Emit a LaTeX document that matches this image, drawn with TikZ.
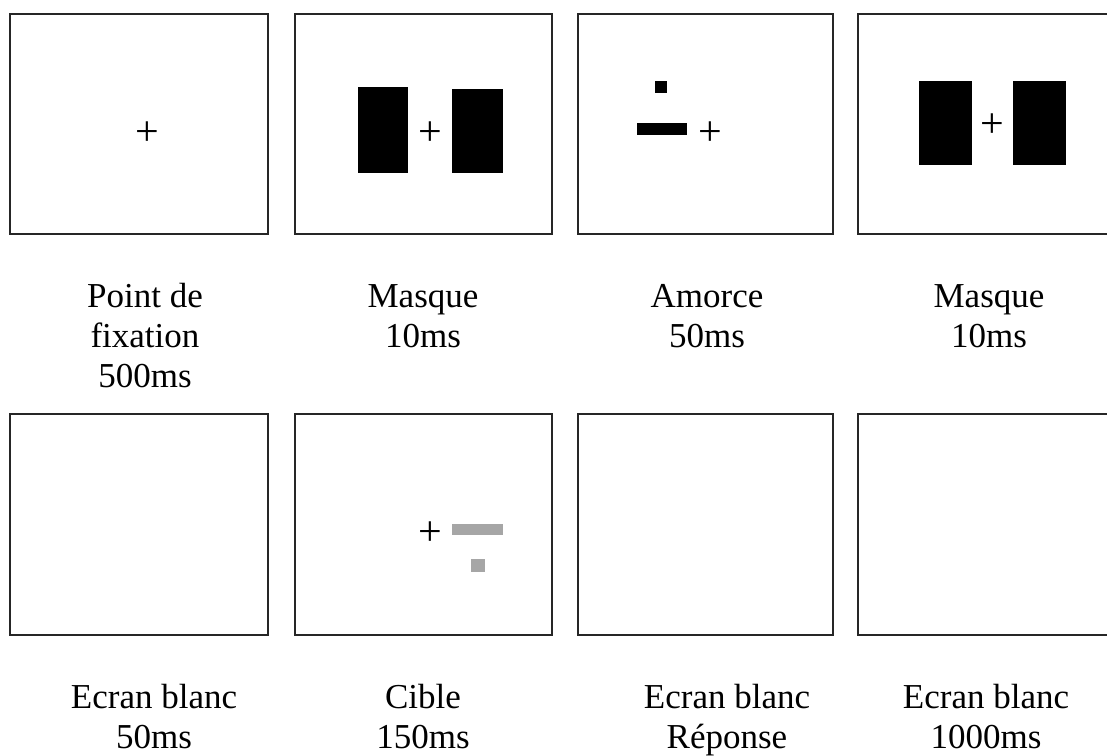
\documentclass[tikz,border=0pt]{standalone}
\usepackage{fontspec}
\setmainfont{Liberation Serif}
\begin{document}
\begin{tikzpicture}[x=1pt,y=-1pt,
  screen/.style={draw=black!85,line width=1.6pt,fill=white},
  lbl/.style={anchor=base,inner sep=0pt,font=\fontsize{35}{40}\selectfont},
  fix/.style={inner sep=0pt,yshift=-4pt,font=\fontsize{42}{44}\selectfont}]
\useasboundingbox (0,0) rectangle (1107,755);
% row 1 screens
\draw[screen] (10,14) rectangle (268,234);
\draw[screen] (295,14) rectangle (552,234);
\draw[screen] (578,14) rectangle (833,234);
\draw[screen] (858,14) rectangle (1116,234);
% row 2 screens
\draw[screen] (10,414) rectangle (268,635);
\draw[screen] (295,414) rectangle (552,635);
\draw[screen] (578,414) rectangle (833,635);
\draw[screen] (858,414) rectangle (1116,635);
% fixation crosses
\node[fix] (p1) at (147,130) {+};
\node[fix] (p2) at (430,130) {+};
\node[fix] (p3) at (710,130) {+};
\node[fix] (p4) at (992,122) {+};
\node[fix] (p6) at (430,530) {+};
% mask 1
\fill (358,87) rectangle (408,173);
\fill (452,89) rectangle (503,173);
% prime
\fill (655,81) rectangle (667,93);
\fill (637,123) rectangle (687,135);
% mask 2
\fill (919,81) rectangle (972,165);
\fill (1013,81) rectangle (1066,165);
% target
\fill[black!35] (452,524) rectangle (503,535);
\fill[black!35] (471,559) rectangle (485,572);
% labels row 1
\node[lbl] (a1) at (145,307) {Point de};
\node[lbl] (a2) at (145,347) {fixation};
\node[lbl] (a3) at (145,387) {500ms};
\node[lbl] (b1) at (423,307) {Masque};
\node[lbl] (b2) at (423,347) {10ms};
\node[lbl] (c1) at (707,307) {Amorce};
\node[lbl] (c2) at (707,347) {50ms};
\node[lbl] (d1) at (989,307) {Masque};
\node[lbl] (d2) at (989,347) {10ms};
% labels row 2
\node[lbl] (e1) at (154,708) {Ecran blanc};
\node[lbl] (e2) at (154,748) {50ms};
\node[lbl] (f1) at (423,708) {Cible};
\node[lbl] (f2) at (423,748) {150ms};
\node[lbl] (g1) at (727,708) {Ecran blanc};
\node[lbl] (g2) at (727,748) {Réponse};
\node[lbl] (h1) at (986,708) {Ecran blanc};
\node[lbl] (h2) at (986,748) {1000ms};
\end{tikzpicture}
\end{document}
